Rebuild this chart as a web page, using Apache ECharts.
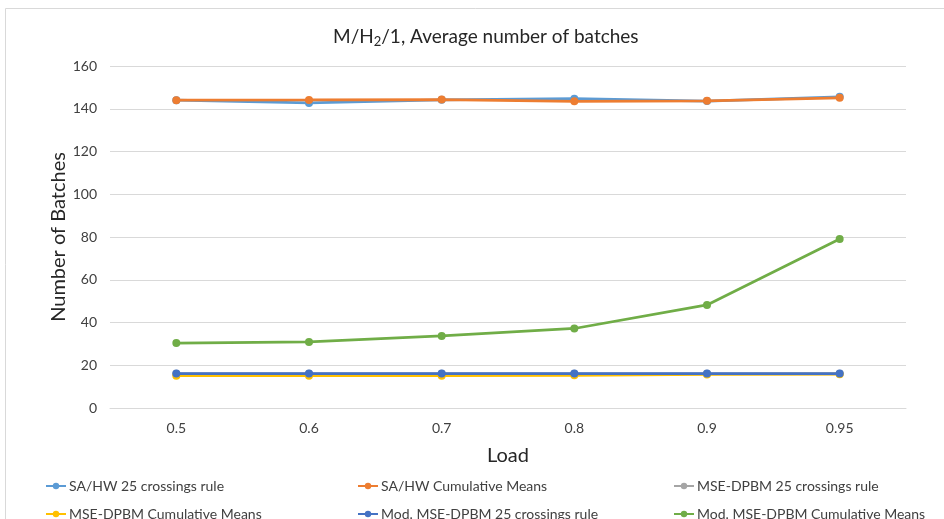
<!DOCTYPE html>
<html>
<head>
<meta charset="utf-8">
<script src="https://cdn.jsdelivr.net/npm/echarts@6/dist/echarts.min.js"></script>
<style>
  html, body { margin: 0; padding: 0; background: #fff; }
  #chart { width: 944px; height: 519px; }
</style>
</head>
<body>
<div id="chart"></div>
<script>
// Load levels on the x axis
const loads = ['0.5', '0.6', '0.7', '0.8', '0.9', '0.95'];

// Average number of batches per method
const saHw25 = [144.0, 142.7, 144.2, 144.7, 143.6, 145.6];
const saHwCum = [144.0, 144.1, 144.3, 143.5, 143.7, 145.1];
const mse25 = [16.0, 16.0, 16.0, 16.0, 16.0, 16.0];
const mseCum = [15.1, 15.1, 15.1, 15.3, 15.7, 15.8];
const modMse25 = [16.1, 16.1, 16.1, 16.1, 16.1, 16.1];
const modMseCum = [30.4, 30.9, 33.7, 37.2, 48.2, 79.1];

const seriesNames = [
  'SA/HW 25 crossings rule', 'SA/HW Cumulative Means', 'MSE-DPBM 25 crossings rule',
  'MSE-DPBM Cumulative Means', 'Mod. MSE-DPBM 25 crossings rule', 'Mod. MSE-DPBM Cumulative Means'
];
const seriesData = [saHw25, saHwCum, mse25, mseCum, modMse25, modMseCum];
const colors = ['#5B9BD5', '#ED7D31', '#A5A5A5', '#FFC000', '#4472C4', '#70AD47'];
// Drawing order: back to front
const drawOrder = [2, 3, 4, 5, 0, 1];

const FONT = 'Lato';
const chart = echarts.init(document.getElementById('chart'));

const legendCols = [40, 352, 668];
const legends = [];
seriesNames.forEach((name, i) => {
  legends.push({
    data: [name],
    left: legendCols[i % 3],
    top: i < 3 ? 474 : 502,
    itemWidth: 20,
    itemHeight: 8,
    itemGap: 0,
    textStyle: { fontFamily: FONT, fontSize: 14, color: '#404040', padding: [0, 0, 0, -2] },
    selectedMode: false
  });
});

chart.setOption({
  animation: false,
  color: colors,
  graphic: [{
    type: 'rect',
    shape: { x: 5.5, y: 8.5, width: 960, height: 540 },
    style: { fill: 'none', stroke: '#d9d9d9', lineWidth: 1 },
    silent: true
  }],
  title: {
    text: 'M/H{sub|2}/1, Average number of batches',
    left: 328,
    top: 20,
    textStyle: {
      fontFamily: FONT, fontSize: 19, fontWeight: 'normal', color: '#262626',
      rich: { sub: { fontFamily: FONT, fontSize: 13, color: '#262626', padding: [10, 0, 0, 0] } }
    }
  },
  legend: legends,
  grid: { left: 110, right: 38, top: 66, bottom: 111, containLabel: false },
  xAxis: {
    type: 'category',
    data: loads,
    boundaryGap: true,
    name: 'Load',
    nameLocation: 'middle',
    nameGap: 38,
    nameTextStyle: { fontFamily: FONT, fontSize: 20, color: '#262626' },
    axisLine: { show: true, lineStyle: { color: '#d9d9d9' } },
    axisTick: { show: false },
    axisLabel: { fontFamily: FONT, fontSize: 14, color: '#404040', margin: 13 }
  },
  yAxis: {
    type: 'value',
    min: 0,
    max: 160,
    interval: 20,
    name: 'Number of Batches',
    nameLocation: 'middle',
    nameGap: 41,
    nameMoveOverlap: false,
    nameTextStyle: { fontFamily: FONT, fontSize: 20, color: '#262626' },
    axisLine: { show: false },
    axisTick: { show: false },
    axisLabel: { fontFamily: FONT, fontSize: 14, color: '#404040', margin: 13 },
    splitLine: { lineStyle: { color: '#d9d9d9', width: 1 } }
  },
  series: drawOrder.map(i => ({
    name: seriesNames[i],
    type: 'line',
    data: seriesData[i],
    symbol: 'circle',
    symbolSize: 8,
    lineStyle: { width: 2.75, color: colors[i] },
    itemStyle: { color: colors[i] },
    z: 2 + drawOrder.indexOf(i)
  }))
});
</script>
</body>
</html>
